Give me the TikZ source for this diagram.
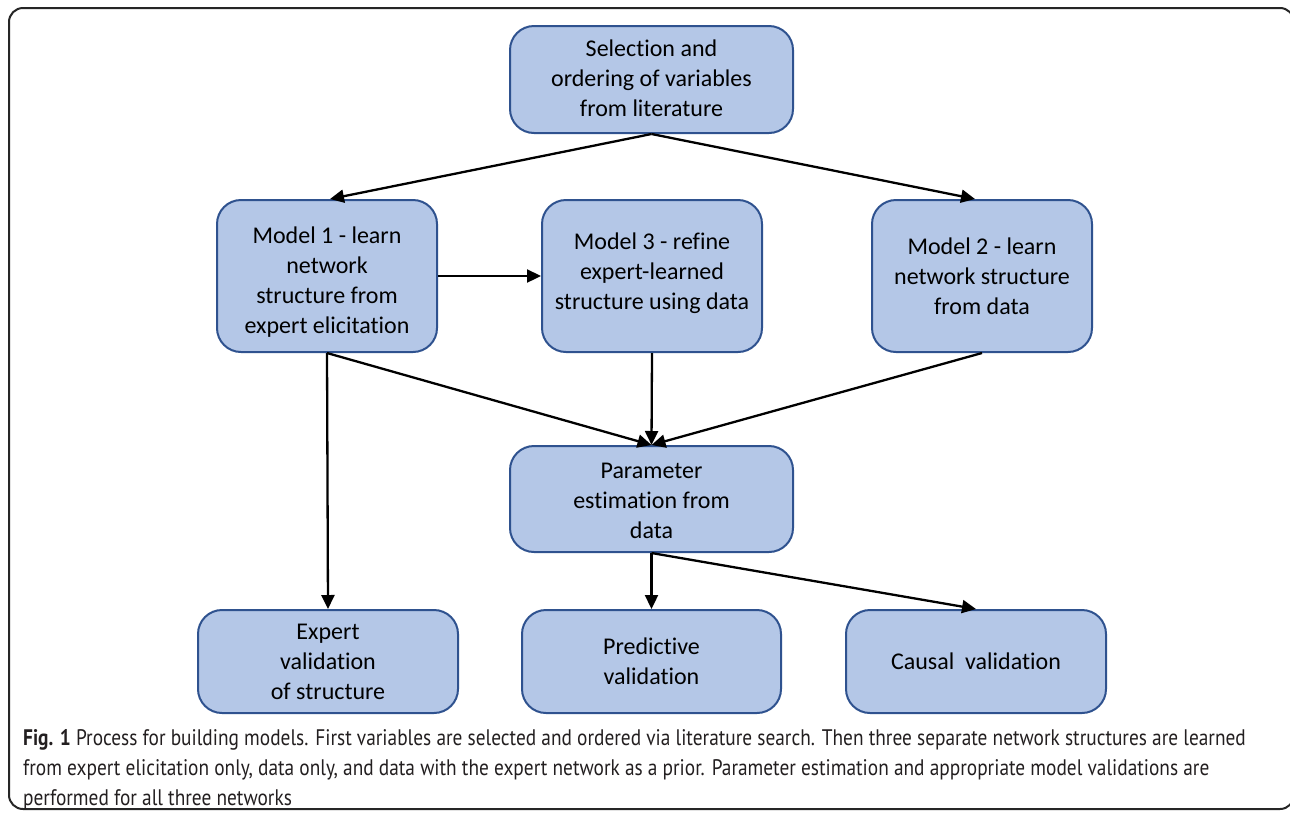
\documentclass[tikz,border=0pt]{standalone}
\usepackage{fontspec}
\setmainfont[Ligatures=NoCommon]{Carlito}
\newfontfamily\capfont[FakeStretch=0.86]{PT Sans}
\usetikzlibrary{arrows.meta}
\definecolor{boxfill}{HTML}{B4C7E7}
\definecolor{boxline}{HTML}{2F528F}
\definecolor{captext}{HTML}{231F20}
\tikzset{
  stepbox/.style={draw=boxline, fill=boxfill, line width=2pt, rounded corners=24pt, inner sep=0pt},
  boxtext/.style={align=center, font=\fontsize{24}{30}\selectfont, text=black, inner sep=0pt},
  conn/.style={draw=black, line width=2.3pt, -{Triangle[length=14pt,width=13pt]}},
  captxt/.style={anchor=west, inner sep=0pt, text=captext, font=\capfont\fontsize{22.5}{25}\selectfont}
}
\begin{document}
\begin{tikzpicture}[x=1pt,y=-1pt]
\clip (0,0) rectangle (1290,812);
\fill[white] (0,0) rectangle (1290,812);
\draw[line width=2pt, draw=black!85, rounded corners=14pt] (9,8) rectangle (1294,809);
% boxes
\node[stepbox, minimum width=283pt, minimum height=107pt] (sel) at (651.5,79.5) {};
\node[boxtext, yshift=1.5pt] (selt) at (sel.center) {Selection and\\ordering of variables\\from literature};
\node[stepbox, minimum width=220pt, minimum height=152pt] (m1) at (327,276) {};
\node[boxtext, yshift=-6pt] (m1t) at (m1.center) {Model 1 - learn\\network\\structure from\\expert elicitation};
\node[stepbox, minimum width=220pt, minimum height=152pt] (m3) at (652,276) {};
\node[boxtext, yshift=3pt] (m3t) at (m3.center) {Model 3 - refine\\expert-learned\\structure using data};
\node[stepbox, minimum width=220pt, minimum height=152pt] (m2) at (982,276) {};
\node[boxtext] (m2t) at (m2.center) {Model 2 - learn\\network structure\\from data};
\node[stepbox, minimum width=283pt, minimum height=106pt] (par) at (651.5,499) {};
\node[boxtext, yshift=-2pt] (part) at (par.center) {Parameter\\estimation from\\data};
\node[stepbox, minimum width=260pt, minimum height=103pt] (ev) at (328,661.5) {};
\node[boxtext] (evt) at (ev.center) {Expert\\validation\\of structure};
\node[stepbox, minimum width=259pt, minimum height=103pt] (pv) at (651.5,661.5) {};
\node[boxtext] (pvt) at (pv.center) {Predictive\\validation};
\node[stepbox, minimum width=260pt, minimum height=103pt] (cv) at (976,661.5) {};
\node[boxtext] (cvt) at (cv.center) {Causal\ \ validation};
% connectors
\draw[conn] (sel.south) -- ([xshift=3pt]m1.north);
\draw[conn] (sel.south) -- ([xshift=-7pt]m2.north);
\draw[conn] (m1.east) -- (m3.west);
\draw[conn] (m1.south) -- (ev.north);
\draw[conn] (m1.south) -- (par.north);
\draw[conn] (m3.south) -- (par.north);
\draw[conn] (m2.south) -- (par.north);
\draw[conn] (par.south) -- (pv.north);
\draw[conn] (par.south) -- (cv.north);
% caption
\node[captxt] (cap1) at (23,740) {{\bfseries Fig. 1} Process for building models. First variables are selected and ordered via literature search. Then three separate network structures are learned};
\node[captxt] (cap2) at (23,770) {from expert elicitation only, data only, and data with the expert network as a prior. Parameter estimation and appropriate model validations are};
\node[captxt] (cap3) at (23,800) {performed for all three networks};
\end{tikzpicture}
\end{document}
